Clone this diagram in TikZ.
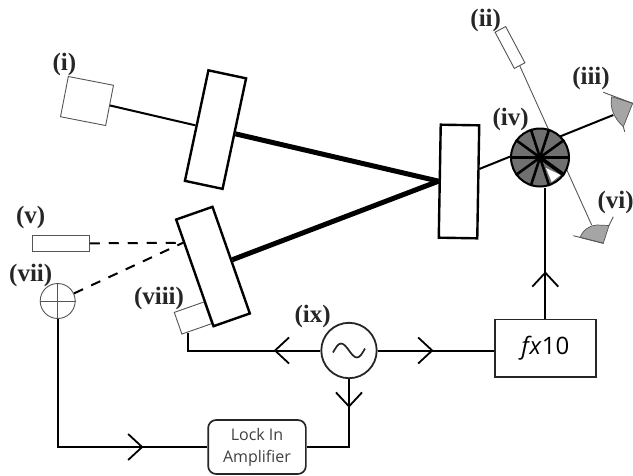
\documentclass[tikz,border=0pt]{standalone}
\usepackage{fontspec}
\setmainfont{Liberation Serif}
\newfontfamily\boxfont{Open Sans}
\usetikzlibrary{arrows.meta, calc, decorations.markings}
\definecolor{chopgray}{RGB}{112, 112, 112}
\definecolor{detgray}{RGB}{165, 165, 165}
\definecolor{thinline}{RGB}{85, 85, 85}
\tikzset{
  >={Straight Barb[length=14pt, width=26pt, line width=1.8pt]},
  mirror/.style={draw=black, fill=white, line width=2.4pt, minimum width=38.5pt, minimum height=113pt, inner sep=0pt},
  optic/.style={draw=thinline, fill=white, line width=0.9pt, inner sep=0pt},
  wire/.style={line width=2pt},
  beam/.style={line width=5pt},
  dashbeam/.style={line width=2pt, dash pattern=on 10pt off 9pt},
  thinbeam/.style={draw=thinline, line width=0.9pt},
  detector/.style={draw=thinline, fill=detgray, line width=0.7pt},
  partlabel/.style={font=\fontsize{25}{25}\selectfont\bfseries, inner sep=0pt, text=black!85},
  elecbox/.style={draw=black!85, fill=white, line width=1.7pt, inner sep=0pt},
  chevron/.style={postaction={decorate, decoration={markings, mark=at position #1 with {\arrow{>}}}}},
}
\begin{document}
\begin{tikzpicture}[x=1pt, y=-1pt]
  \useasboundingbox (0,0) rectangle (633,475);
  % mirrors
  \node[mirror, rotate=-12] (mirrorone) at (215.5,129.6) {};
  \node[mirror, rotate=-1] (mirrorthree) at (459,181.5) {};
  \node[optic, rotate=19.3, minimum width=31.6pt, minimum height=23pt] (modbox) at (193,318) {};
  \node[mirror, rotate=19.3] (mirrortwo) at (213,266.5) {};
  % sources
  \node[optic, rotate=-11, minimum width=46pt, minimum height=41pt] (srcbox) at (87,101) {};
  \node[optic, rotate=-62, minimum width=41pt, minimum height=12pt] (probebox) at (510,47.5) {};
  \node[optic, minimum width=57pt, minimum height=16.7pt] (refbox) at (60.8,243.3) {};
  \node[draw=thinline, fill=white, line width=0.9pt, circle, minimum size=35pt, inner sep=0pt] (pickup) at (57.7,301) {};
  \draw[thinline, line width=0.8pt] (pickup.north) -- (pickup.south) (pickup.west) -- (pickup.east);
  % electronics
  \node[elecbox, minimum width=100.7pt, minimum height=57.3pt, font=\boxfont\fontsize{24}{24}\selectfont] (mult) at (545.3,348) {\textit{f\kern1pt x}10};
  \node[elecbox, rounded corners=8pt, minimum width=97.7pt, minimum height=54pt, align=center, font=\boxfont\fontsize{16}{22}\selectfont, text=black!75] (lockin) at (257,447) {Lock In\\Amplifier};
  \node[draw=black!85, fill=white, line width=1.8pt, circle, minimum size=55.4pt, inner sep=0pt] (osc) at (349,350.5) {};
  \draw[line width=1.7pt, black!85] ($(osc)+(-16,2)$) sin ($(osc)+(-8,-7)$) cos ($(osc)$) sin ($(osc)+(8,7)$) cos ($(osc)+(16,-2)$);
  % beams
  \coordinate (beamout) at (479.3,169);
  \coordinate (detthree) at (613.3,115);
  \coordinate (detsix) at (591.7,225);
  \coordinate (mirrorin) at ($(mirrortwo.north west)!0.22!(mirrortwo.south west)$);
  \draw[wire] (srcbox.east) -- (mirrorone.west);
  \draw[beam] (mirrorone.east) -- (mirrorthree.west);
  \draw[beam] (mirrortwo.east) -- (mirrorthree.west);
  \draw[wire] (beamout) -- (detthree);
  \draw[thinbeam] (probebox.east) -- (detsix);
  \draw[dashbeam] (refbox.east) -- (mirrorin);
  \draw[dashbeam] (pickup.25) -- (mirrorin);
  % chopper
  \node[draw=black, fill=chopgray, line width=2pt, circle, minimum size=58pt, inner sep=0pt] (chop) at (540,157.5) {};
  \foreach \ang in {0,36,...,324} {
    \draw[line width=2.6pt] (chop.center) -- (chop.\ang);
  }
  \fill[white] (546,168) -- (560.5,175) -- (551.7,182) -- cycle;
  \draw[line width=3.6pt] (chop.center) -- (chop.324);
  % detectors
  \draw[detector] (611.7,96.7) .. controls (609.5,108) and (614,118) .. (623.3,126.7) -- (632.7,103.3) -- cycle;
  \draw[thinbeam] (603.3,92.3) -- (632.7,103.3) (623.3,126.7) -- (624.7,131.7);
  \draw[detector] (580,237.3) .. controls (583,230) and (590,225) .. (597,225) -- (609,225.5) -- (603.3,243.3) -- cycle;
  \draw[thinbeam] (573.3,235.7) -- (603.3,243.3) (609,225.5) -- (613.3,216.7);
  % wires
  \draw[wire, chevron=0.31] (osc.west) -| ($(modbox.south west)!0.2!(modbox.south east)$);
  \draw[wire, chevron=0.48] (osc.east) -- (osc.east -| mult.west);
  \draw[wire, chevron=0.26] (osc.south) |- (lockin.east);
  \draw[wire, chevron=0.77] (pickup.south) |- (lockin.west);
  \draw[wire, chevron=0.36] (mult.north) -- (mult.north |- chop.south);
  % labels
  \node[partlabel] (lbli) at (64.3,64) {(i)};
  \node[partlabel] (lblii) at (485.7,20) {(ii)};
  \node[partlabel] (lbliii) at (591,78.3) {(iii)};
  \node[partlabel] (lbliv) at (510.7,119.3) {(iv)};
  \node[partlabel] (lblv) at (30.7,217.3) {(v)};
  \node[partlabel] (lblvi) at (615.7,202.7) {(vi)};
  \node[partlabel] (lblvii) at (30.7,275) {(vii)};
  \node[partlabel] (lblviii) at (159,298.3) {(viii)};
  \node[partlabel] (lblix) at (312.7,316) {(ix)};
\end{tikzpicture}
\end{document}
